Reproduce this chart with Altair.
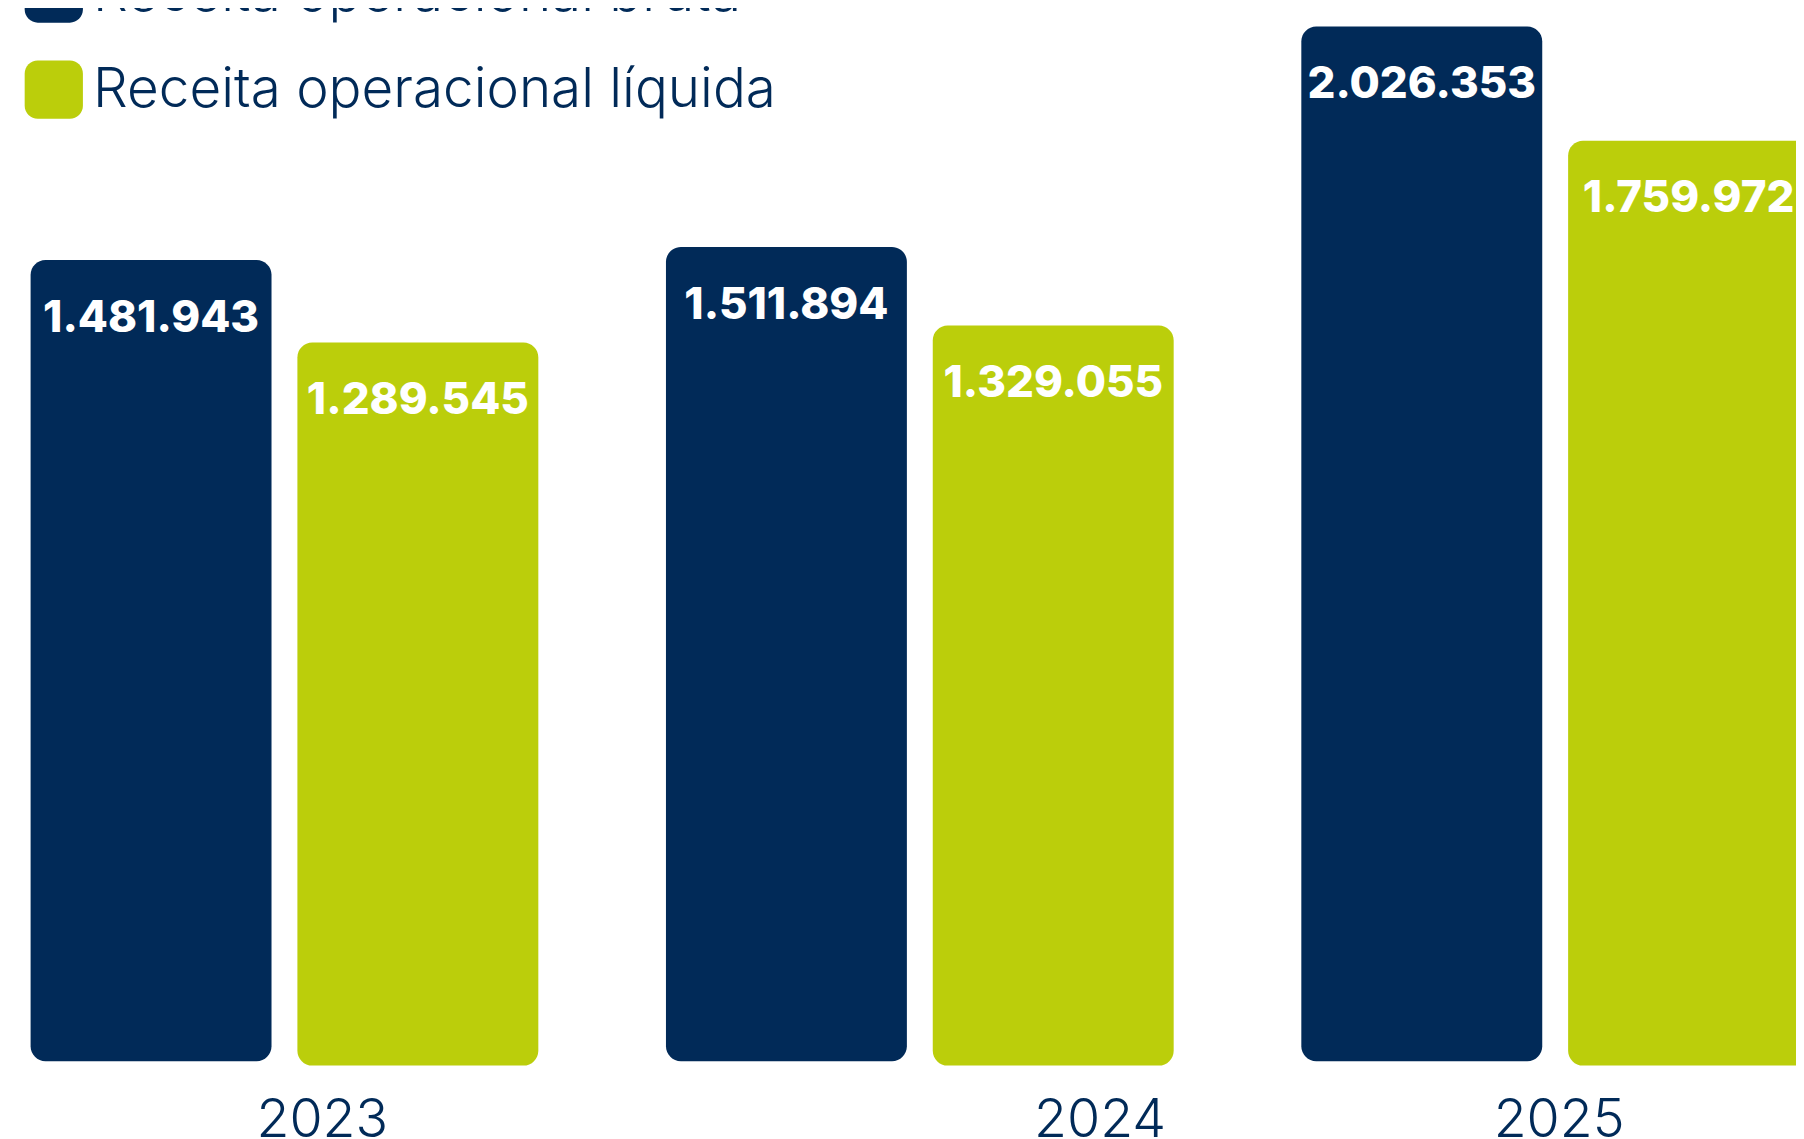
import altair as alt
import pandas as pd

# ---- data ----
years = ["2023", "2024", "2025"]
series_names = ["Receita operacional bruta", "Receita operacional líquida"]
bruta = [1481943, 1511894, 2026353]
liquida = [1289545, 1329055, 1759972]
# the bars of the picture start below zero: value at which each series' bars begin
bar_base = [-386600, -396600]
y_domain = [-561900, 2063500]

# ---- style ----
navy = "#012A58"
lime = "#BBCE0B"
year_label_dx = {"2023": 38, "2024": 181, "2025": 4}

rows = []
for s, vals, base in zip(series_names, [bruta, liquida], bar_base):
    for yr, v in zip(years, vals):
        rows.append({"ano": yr, "serie": s, "valor": v, "base": base,
                     "rotulo": f"{v:,}".replace(",", ".")})
df = pd.DataFrame(rows)

label_offset = {
    "condition": [{"test": f"datum.value == '{k}'", "value": v}
                  for k, v in year_label_dx.items()],
    "value": 0,
}

x_enc = alt.X(
    "ano:N",
    sort=years,
    scale=alt.Scale(range=[22.7, 1809.1], paddingInner=0.2009, paddingOuter=0),
    axis=alt.Axis(
        title=None, domain=False, ticks=False, tickSize=0, grid=False,
        labelPadding=0, labelBaseline="alphabetic", labelAngle=0,
        labelFontSize=54, labelFont="Inter", labelFontWeight=300,
        labelColor=navy, labelOffset=label_offset,
    ),
)
xoff = alt.XOffset("serie:N", sort=series_names,
                   scale=alt.Scale(paddingInner=0.097, paddingOuter=0))
y_enc = alt.Y("valor:Q", scale=alt.Scale(domain=y_domain, zero=False, nice=False),
              axis=None)

rounded = ("M-0.55,-1H0.55A0.45,0.45 0 0 1 1,-0.55V0.55A0.45,0.45 0 0 1 0.55,1"
           "H-0.55A0.45,0.45 0 0 1 -1,0.55V-0.55A0.45,0.45 0 0 1 -0.55,-1Z")

bars = alt.Chart(df).mark_bar(cornerRadius=15, clip=True).encode(
    x=x_enc,
    xOffset=xoff,
    y=y_enc,
    y2=alt.Y2("base:Q"),
    color=alt.Color(
        "serie:N",
        scale=alt.Scale(domain=series_names, range=[navy, lime]),
        legend=alt.Legend(
            title=None, orient="none", legendX=16.5, legendY=-46.5,
            direction="vertical", padding=0,
            symbolType=rounded, symbolSize=3422, symbolStrokeWidth=0,
            symbolOpacity=1,
            labelFont="Inter", labelFontSize=55, labelFontWeight=300,
            labelColor=navy, labelLimit=1500, labelOffset=10,
            rowPadding=37.5,
        ),
    ),
)

labels = alt.Chart(df).mark_text(
    dy=72, baseline="alphabetic", align="center", fontSize=44,
    font="Inter", fontWeight=800, color="white", clip=True,
).encode(
    x=x_enc,
    xOffset=xoff,
    y=y_enc,
    text="rotulo:N",
)

chart = alt.layer(bars, labels).properties(
    width=1796, height=1131,
    autosize=alt.AutoSizeParams(type="none"),
    padding=0,
    background="white",
).configure_view(stroke=None)

chart.save("out.html", embed_options={"renderer": "svg", "actions": False})
